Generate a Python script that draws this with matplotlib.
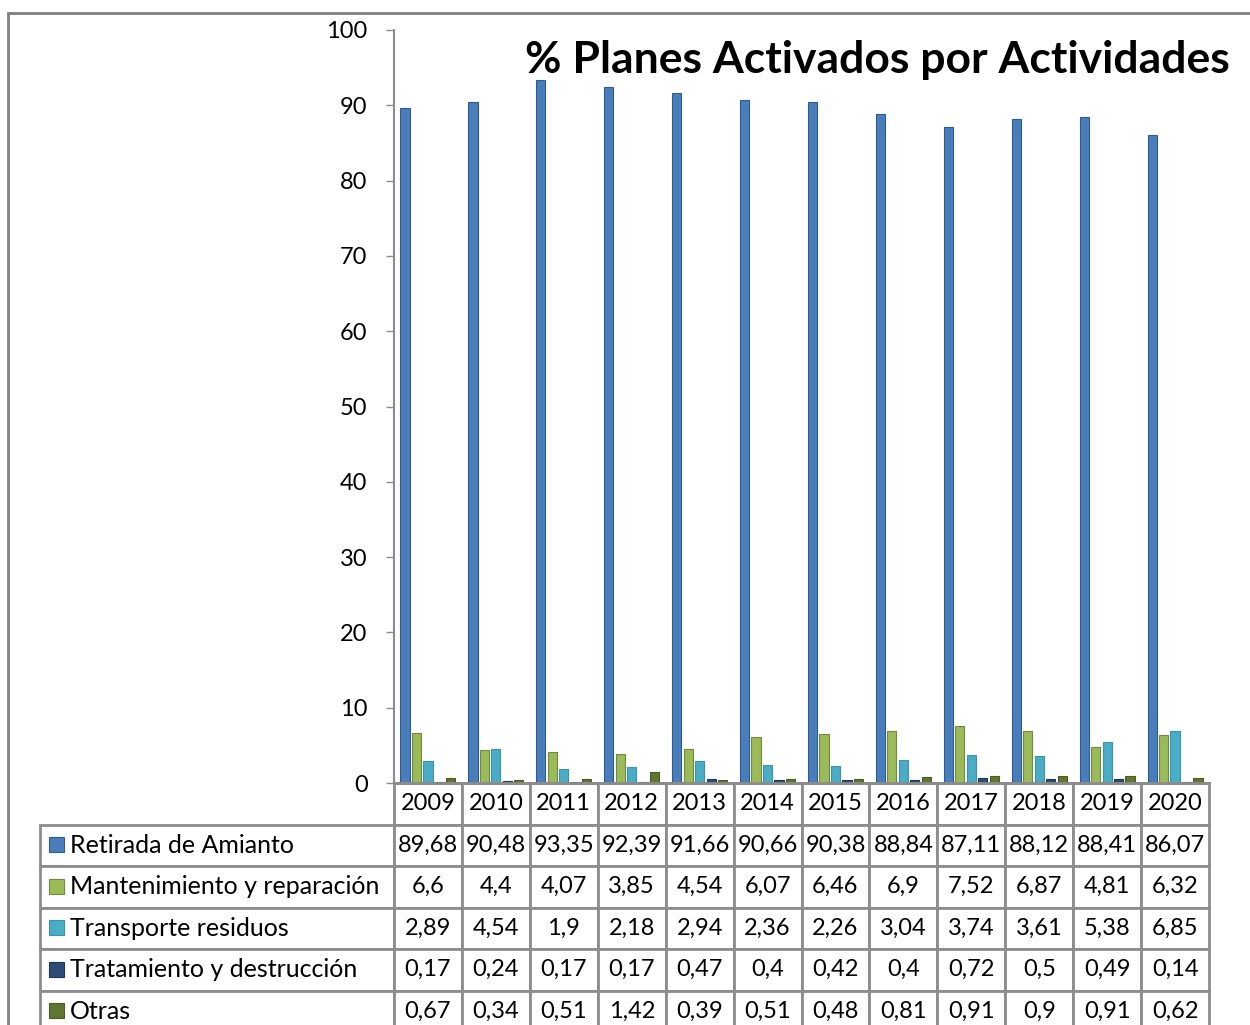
import matplotlib
matplotlib.use("Agg")
import matplotlib.pyplot as plt
from matplotlib.patches import Rectangle
import numpy as np

plt.rcParams['font.family'] = ['Lato', 'DejaVu Sans']

years = ['2009', '2010', '2011', '2012', '2013', '2014', '2015', '2016', '2017', '2018', '2019', '2020']
series_names = ['Retirada de Amianto', 'Mantenimiento y reparación', 'Transporte residuos',
                'Tratamiento y destrucción', 'Otras']
retirada = [89.68, 90.48, 93.35, 92.39, 91.66, 90.66, 90.38, 88.84, 87.11, 88.12, 88.41, 86.07]
mantenimiento = [6.6, 4.4, 4.07, 3.85, 4.54, 6.07, 6.46, 6.9, 7.52, 6.87, 4.81, 6.32]
transporte = [2.89, 4.54, 1.9, 2.18, 2.94, 2.36, 2.26, 3.04, 3.74, 3.61, 5.38, 6.85]
tratamiento = [0.17, 0.24, 0.17, 0.17, 0.47, 0.4, 0.42, 0.4, 0.72, 0.5, 0.49, 0.14]
otras = [0.67, 0.34, 0.51, 1.42, 0.39, 0.51, 0.48, 0.81, 0.91, 0.9, 0.91, 0.62]

series = [retirada, mantenimiento, transporte, tratamiento, otras]
colors = ['#4A7EBB', '#9BBB59', '#4BACC6', '#2C4D75', '#5F7530']
edges = ['#2F5A8E', '#71893F', '#3A93AB', '#1F3655', '#4A5C24']

W, H = 1250, 1025
fig = plt.figure(figsize=(12.5, 10.25), dpi=100)

# outer chart frame (runs off right and bottom)
fig.patches.append(Rectangle((8 / W, -0.05), 1.2, 1 - 13 / H + 0.05, transform=fig.transFigure,
                             fill=False, edgecolor='#7f7f7f', linewidth=2))

ax_l, ax_r, ax_b, ax_t = 394, 1209, 783, 30
ax = fig.add_axes([ax_l / W, 1 - ax_b / H, (ax_r - ax_l) / W, (ax_b - ax_t) / H])

def px_x(px):
    return (px - ax_l) / (ax_r - ax_l)

def px_y(py):
    return (ax_b - py) / (ax_b - ax_t)

x = np.arange(len(years)) + 0.5
step = 0.169
bw = 0.135
for k, vals in enumerate(series):
    ax.bar(x + (k - 2) * step, vals, width=bw, color=colors[k], edgecolor=edges[k], linewidth=0.8)

ax.set_xlim(0, len(years))
ax.set_ylim(0, 100)
ax.set_yticks(range(0, 101, 10))
ax.set_xticks([])
ax.tick_params(axis='y', direction='out', length=6, width=1, color='#8c8c8c',
               labelsize=17, pad=13)
for s in ['top', 'right']:
    ax.spines[s].set_visible(False)
ax.spines['left'].set_color('#8c8c8c')
ax.spines['left'].set_linewidth(1.5)
ax.spines['bottom'].set_color('#8c8c8c')
ax.spines['bottom'].set_linewidth(2)

ax.text(px_x(877), px_y(60), '% Planes Activados por Actividades', transform=ax.transAxes,
        ha='center', va='center', fontsize=32, fontweight='bold')

# data table: widths in axes units so the bbox does not rescale them
cell_text = [[str(v).replace('.', ',') for v in vals] for vals in series]
col_w = 1 / len(years)
lab_w = (394 - 40) / (ax_r - ax_l)
tab = ax.table(cellText=cell_text, colLabels=years,
               colWidths=[col_w] * len(years), cellLoc='center',
               bbox=[0, px_y(1032), 1, px_y(783) - px_y(1032)])
row_h = tab[0, 0].get_height()
for k, name in enumerate(series_names):
    c = tab.add_cell(k + 1, -1, width=lab_w, height=row_h, text=name, loc='left')
    c.PAD = (70 - 40) / (394 - 40)
tab.auto_set_font_size(False)
tab.set_fontsize(17)
for (r, c), cell in tab.get_celld().items():
    cell.set_edgecolor('#8c8c8c')
    cell.set_linewidth(2)
    if c == -1:
        cell.get_text().set_fontsize(18)

# legend keys in the row label cells
for k in range(len(series)):
    cy = 824 + 41.5 * k + 20.75
    ax.add_patch(Rectangle((px_x(49), px_y(cy + 7.5)), px_x(64) - px_x(49), px_y(cy - 7.5) - px_y(cy + 7.5),
                           transform=ax.transAxes, facecolor=colors[k], edgecolor=edges[k],
                           linewidth=0.8, clip_on=False))

fig.savefig('out.png', dpi=100)
